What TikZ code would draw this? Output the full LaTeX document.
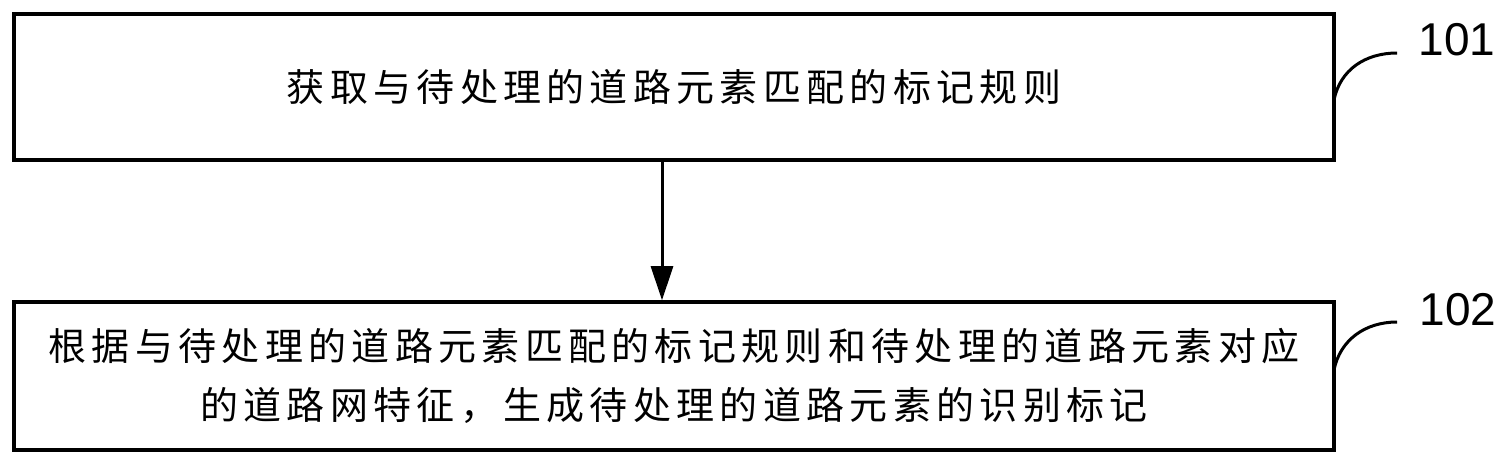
\documentclass[tikz,border=0pt]{standalone}
\usepackage{fontspec}
\setmainfont{Liberation Sans}
\newfontfamily\cjk{Noto Sans CJK SC}[LetterSpace=14]
\usetikzlibrary{arrows.meta}
\tikzset{
  stepbox/.style={draw=black, line width=3.6pt, rectangle, inner sep=0pt, align=center,
    font=\cjk\fontsize{38}{59}\selectfont},
  flow/.style={line width=3pt, -{Triangle[length=34pt,width=22pt]}},
  tag/.style={font=\fontsize{46}{50}\selectfont, inner sep=0pt},
  leader/.style={line width=3pt}
}
\begin{document}
\begin{tikzpicture}[x=1pt,y=-1pt]
\useasboundingbox (0,0) rectangle (1506,464);
\node[stepbox, minimum width=1320pt, minimum height=146pt] (box1) at (674,87)
  {获取与待处理的道路元素匹配的标记规则};
\node[stepbox, minimum width=1320pt, minimum height=148pt] (box2) at (674,376)
  {根据与待处理的道路元素匹配的标记规则和待处理的道路元素对应\\的道路网特征，生成待处理的道路元素的识别标记};
\draw[flow] ([xshift=-12pt]box1.south) -- ([xshift=-12pt]box2.north);
\node[tag] (l1) at (1457,40) {101};
\node[tag] (l2) at (1458,310) {102};
\coordinate (c1) at (1334,100);
\coordinate (e1) at (1397,53);
\coordinate (c2) at (1334,370);
\coordinate (e2) at (1397,322);
\draw[leader] (c1) .. controls (1340,70) and (1365,53) .. (e1);
\draw[leader] (c2) .. controls (1340,340) and (1365,322) .. (e2);
\end{tikzpicture}
\end{document}
